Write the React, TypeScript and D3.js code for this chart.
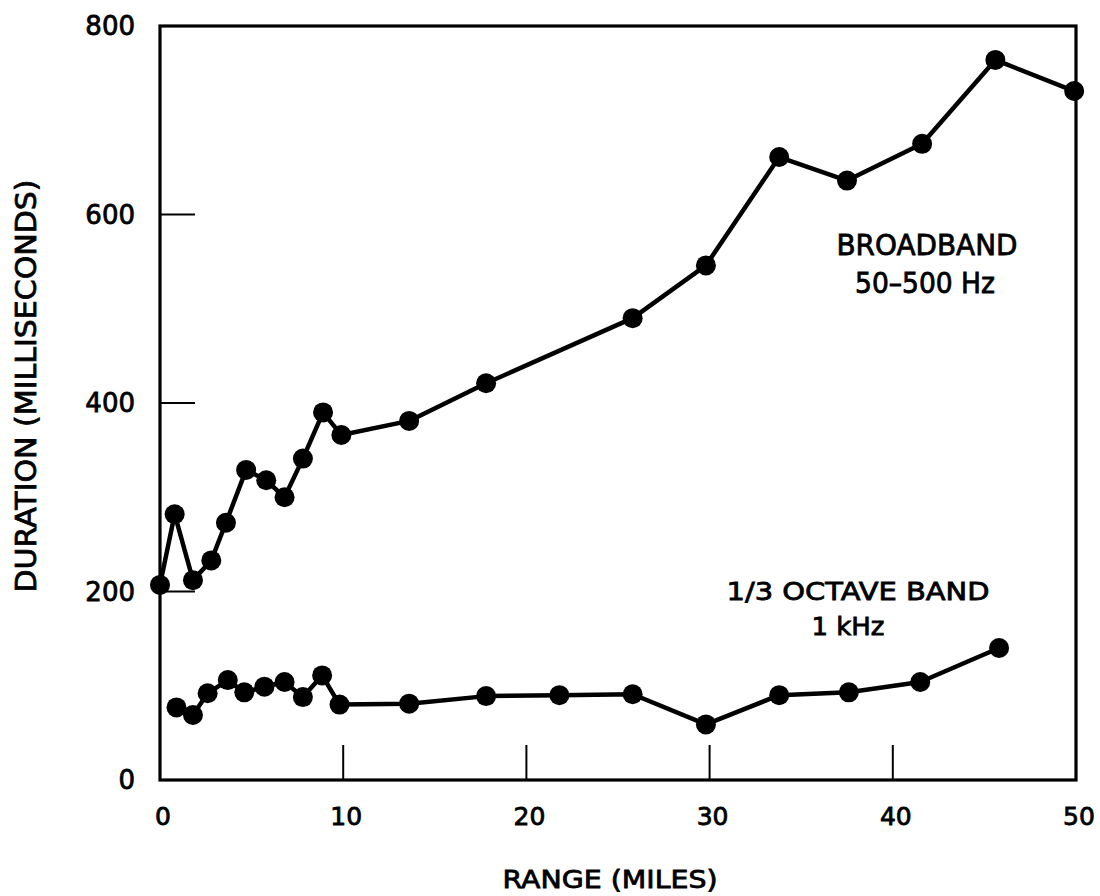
import React from "react";
import * as d3 from "d3";

// Range (miles) and signal duration (ms) for the two frequency bands
const broadbandRange = [0, 0.8, 1.8, 2.8, 3.6, 4.7, 5.8, 6.8, 7.8, 8.9, 9.9, 13.6, 17.8, 25.8, 29.8, 33.8, 37.5, 41.6, 45.6, 49.9];
const broadbandDuration = [207, 282, 212, 233, 273, 329, 318, 300, 341, 390, 366, 381, 421, 490, 546, 661, 636, 675, 764, 731];

const octaveRange = [0.9, 1.8, 2.6, 3.7, 4.6, 5.7, 6.8, 7.8, 8.85, 9.8, 13.6, 17.8, 21.8, 25.8, 29.8, 33.8, 37.6, 41.5, 45.8];
const octaveDuration = [77, 69, 92, 106, 93, 99, 104, 88, 111, 80, 81, 89, 90, 91, 59, 90, 93, 104, 140];

const xTicks = [0, 10, 20, 30, 40, 50];
const yTicks = [0, 200, 400, 600, 800];

const WIDTH = 1100;
const HEIGHT = 896;
const FONT = "'DejaVu Sans', 'Noto Sans', sans-serif";

// slightly heavier lettering
const textStyle = { stroke: "#000", strokeWidth: 0.8, fill: "#000" } as const;

export default function App() {
  const x = d3.scaleLinear().domain([0, 50]).range([160, 1076]);
  const y = d3.scaleLinear().domain([0, 800]).range([780, 26]);

  const line = d3
    .line<[number, number]>()
    .x((d) => x(d[0]))
    .y((d) => y(d[1]));

  const broadband: [number, number][] = broadbandRange.map((r, i) => [r, broadbandDuration[i]]);
  const octave: [number, number][] = octaveRange.map((r, i) => [r, octaveDuration[i]]);

  const [x0, x1] = x.range();
  const [y0, y1] = y.range();
  const tickLen = 35;

  return (
    <svg
      width={WIDTH}
      height={HEIGHT}
      style={{ position: "absolute", left: 0, top: 0, background: "#fff" }}
      fontFamily={FONT}
    >
      <rect x={0} y={0} width={WIDTH} height={HEIGHT} fill="#fff" />

      {/* plot frame */}
      <rect x={x0} y={y1} width={x1 - x0} height={y0 - y1} fill="none" stroke="#000" strokeWidth={3.2} />

      {/* inward ticks on the x axis */}
      {xTicks.filter((t) => t > 0 && t < 50).map((t) => (
        <line key={"xt" + t} x1={x(t)} x2={x(t)} y1={y0} y2={y0 - tickLen} stroke="#000" strokeWidth={2} />
      ))}
      {/* inward ticks on the y axis */}
      {yTicks.filter((t) => t > 0 && t < 800).map((t) => (
        <line key={"yt" + t} x1={x0} x2={x0 + tickLen} y1={y(t)} y2={y(t)} stroke="#000" strokeWidth={2} />
      ))}

      {/* tick labels */}
      {xTicks.map((t) => (
        <text key={"xl" + t} x={x(t) + 3} y={825} textAnchor="middle" fontSize={25} {...textStyle}>
          {t}
        </text>
      ))}
      {yTicks.map((t) => (
        <text
          key={"yl" + t}
          x={135}
          y={y(t)}
          textAnchor="end"
          dominantBaseline="central"
          fontSize={26}
          {...textStyle}
        >
          {t}
        </text>
      ))}

      {/* axis titles */}
      <text x={610} y={888} textAnchor="middle" fontSize={25} textLength={215} lengthAdjust="spacingAndGlyphs" {...textStyle}>
        RANGE  (MILES)
      </text>
      <text
        transform={`translate(36, 386) rotate(-90)`}
        textAnchor="middle"
        fontSize={28}
        textLength={413}
        lengthAdjust="spacingAndGlyphs"
        {...textStyle}
      >
        DURATION  (MILLISECONDS)
      </text>

      {/* data series */}
      <path d={line(broadband) ?? ""} fill="none" stroke="#000" strokeWidth={4.5} strokeLinejoin="round" />
      <path d={line(octave) ?? ""} fill="none" stroke="#000" strokeWidth={4.5} strokeLinejoin="round" />
      {broadband.map((d, i) => (
        <circle key={"b" + i} cx={x(d[0])} cy={y(d[1])} r={10} fill="#000" />
      ))}
      {octave.map((d, i) => (
        <circle key={"o" + i} cx={x(d[0])} cy={y(d[1])} r={10} fill="#000" />
      ))}

      {/* series annotations */}
      <text x={927} y={255} textAnchor="middle" fontSize={29} textLength={181} lengthAdjust="spacingAndGlyphs" {...textStyle}>
        BROADBAND
      </text>
      <text x={925} y={293} textAnchor="middle" fontSize={28} textLength={140} lengthAdjust="spacingAndGlyphs" {...textStyle}>
        50–500 Hz
      </text>
      <text x={858} y={600} textAnchor="middle" fontSize={25} textLength={263} lengthAdjust="spacingAndGlyphs" {...textStyle}>
        1/3 OCTAVE BAND
      </text>
      <text x={848} y={635} textAnchor="middle" fontSize={25} textLength={73} lengthAdjust="spacingAndGlyphs" {...textStyle}>
        1 kHz
      </text>
    </svg>
  );
}
